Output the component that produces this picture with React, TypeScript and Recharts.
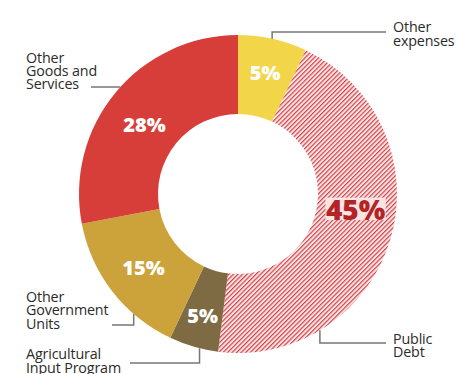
import React from 'react';
import { PieChart, Pie, Cell } from 'recharts';

const categories = [
  'Other expenses',
  'Public Debt',
  'Agricultural Input Program',
  'Other Government Units',
  'Other Goods and Services',
];
const shares = [7, 45, 5, 15, 28];
const shareLabels = ['5%', '45%', '5%', '15%', '28%'];
const nameLines = [
  ['Other', 'expenses'],
  ['Public', 'Debt'],
  ['Agricultural', 'Input Program'],
  ['Other', 'Government', 'Units'],
  ['Other', 'Goods and', 'Services'],
];

const data = categories.map((name, i) => ({
  name,
  value: shares[i],
  label: shareLabels[i],
  lines: nameLines[i],
}));

const FILLS = ['#F3D54A', 'url(#hatch)', '#7E6A43', '#CCA23B', '#D73D39'];

const RAD = Math.PI / 180;
const pt = (cx: number, cy: number, r: number, compass: number) => [
  cx + r * Math.sin(compass * RAD),
  cy - r * Math.cos(compass * RAD),
];

// style tweaks for the inner value labels
const inner = [
  { dA: 0, dR: 5, size: 20, color: '#ffffff' },
  { dA: -9, dR: -1, size: 28, color: '#B32426', bg: true },
  { dA: 0, dR: 7, size: 20, color: '#ffffff' },
  { dA: 0, dR: 0, size: 20, color: '#ffffff' },
  { dA: -3, dR: -3, size: 20, color: '#ffffff' },
];

// leader-line / callout styling (offsets relative to centre)
const callouts = [
  { anchor: 12.4, ey: -162, ex: 148, tx: 155, ty: -168, gap: 14 },
  { anchor: 149, ey: 149, ex: 148, tx: 155, ty: 144, gap: 13.5 },
  { anchor: 194, ey: 169, ex: -108, tx: -212, ty: 159, gap: 14 },
  { anchor: 221, ey: 131, ex: -126, tx: -212, ty: 102, gap: 13.5 },
  { anchor: 312.3, ey: -107, ex: -147, tx: -212, ty: -137, gap: 13 },
];

const renderLabel = (props: any) => {
  const { cx, cy, midAngle, innerRadius, outerRadius, index } = props;
  const st = inner[index];
  const co = callouts[index];
  const compass = 90 - midAngle + st.dA;
  const r = (innerRadius + outerRadius) / 2 + st.dR;
  const [lx, ly] = pt(cx, cy, r, compass);
  const [sx, sy] = pt(cx, cy, outerRadius, co.anchor);
  const ey = cy + co.ey;
  const ex = cx + co.ex;
  const lines: string[] = data[index].lines;
  const tw = st.size * 2.15;
  return (
    <g key={`lbl-${index}`}>
      {st.bg && (
        <rect x={lx - tw / 2} y={ly - st.size * 0.4} width={tw} height={st.size * 0.8} fill="#FBE4E4" />
      )}
      <text
        x={lx}
        y={ly}
        textAnchor="middle"
        dominantBaseline="central"
        fill={st.color}
        fontFamily="'Open Sans', sans-serif"
        fontWeight={800}
        fontSize={st.size}
      >
        {data[index].label}
      </text>
      <polyline
        points={`${sx},${sy} ${sx},${ey} ${ex},${ey}`}
        fill="none"
        stroke="#777777"
        strokeWidth={1.5}
      />
      {lines.map((ln, k) => (
        <text
          key={k}
          x={cx + co.tx}
          y={cy + co.ty + k * co.gap}
          textAnchor="start"
          dominantBaseline="central"
          fill="#2b2b2b"
          fontFamily="'Open Sans', sans-serif"
          fontSize={14.3}
          letterSpacing={-0.15}
        >
          {ln}
        </text>
      ))}
    </g>
  );
};

export default function App() {
  return (
    <div style={{ position: 'absolute', left: 0, top: 0, width: 457, height: 374, background: '#fff' }}>
      <PieChart width={457} height={374} margin={{ top: 0, right: 0, bottom: 0, left: 0 }}>
        <defs>
          <pattern id="hatch" patternUnits="userSpaceOnUse" width={3.2} height={3.2} patternTransform="rotate(45)">
            <rect x={0} y={0} width={3.2} height={3.2} fill="#FBE4E4" />
            <line x1={0.6} y1={0} x2={0.6} y2={3.2} stroke="#D0353C" strokeWidth={1.1} />
          </pattern>
        </defs>
        <Pie
          data={data}
          dataKey="value"
          nameKey="name"
          cx={238}
          cy={194}
          innerRadius={80}
          outerRadius={159}
          startAngle={90}
          endAngle={-270}
          stroke="none"
          label={renderLabel}
          labelLine={false}
          isAnimationActive={false}
        >
          {data.map((d, i) => (
            <Cell key={d.name} fill={FILLS[i]} />
          ))}
        </Pie>
      </PieChart>
    </div>
  );
}
